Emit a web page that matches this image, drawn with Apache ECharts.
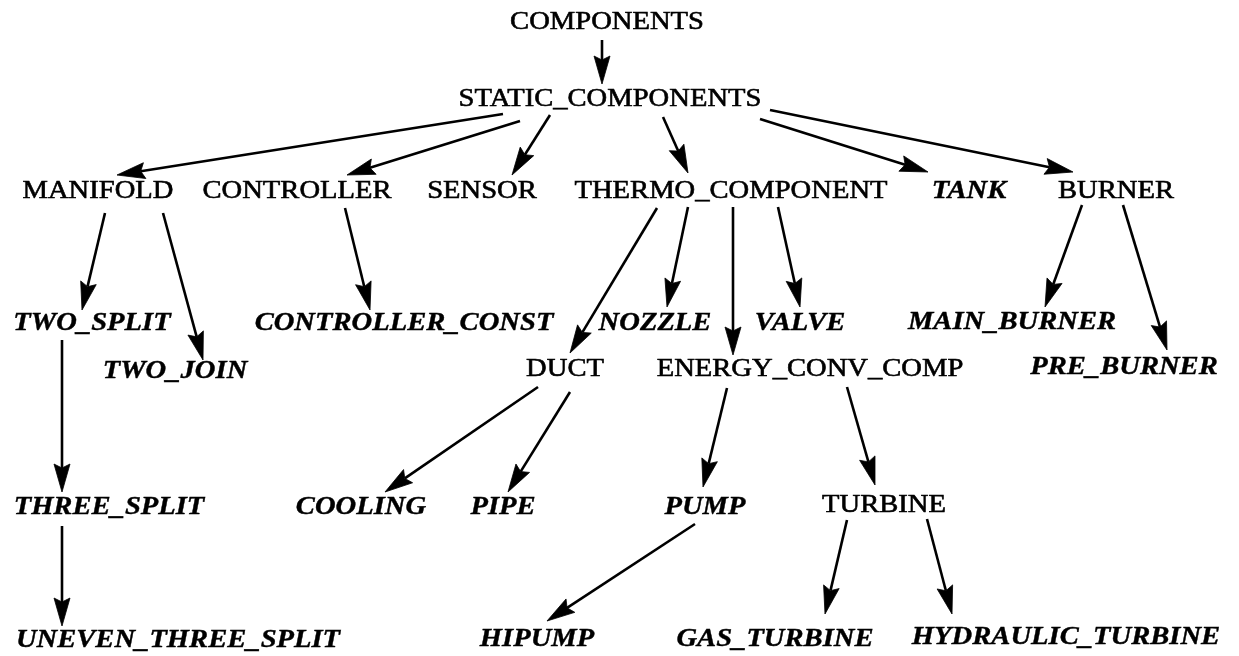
<!DOCTYPE html>
<html>
<head>
<meta charset="utf-8">
<script src="https://cdn.jsdelivr.net/npm/echarts@6/dist/echarts.min.js"></script>
<style>
	html, body { margin: 0; padding: 0; background: #fff; }
	#TreeChart { width: 1239px; height: 656px; }
</style>
</head>
<body>
<div id="TreeChart"></div>
<script>
	/*节点名称*/
	var nodeNames = ['COMPONENTS', 'STATIC_COMPONENTS',
		'MANIFOLD', 'CONTROLLER', 'SENSOR', 'THERMO_COMPONENT', 'TANK', 'BURNER',
		'TWO_SPLIT', 'CONTROLLER_CONST', 'NOZZLE', 'VALVE', 'MAIN_BURNER',
		'TWO_JOIN', 'DUCT', 'ENERGY_CONV_COMP', 'PRE_BURNER',
		'THREE_SPLIT', 'COOLING', 'PIPE', 'PUMP', 'TURBINE',
		'UNEVEN_THREE_SPLIT', 'HIPUMP', 'GAS_TURBINE', 'HYDRAULIC_TURBINE'];
	/*节点中心 (picture units)*/
	var nodeX = [607, 610,
		98, 297, 482, 731, 969, 1116,
		92, 404, 655, 800, 1012,
		175, 565, 810, 1124,
		109, 361, 503, 705, 884,
		178, 537, 775, 1066];
	var nodeY = [22, 99,
		191, 191, 191, 191, 191, 191,
		323, 323, 323, 323, 322,
		371, 369, 369, 367,
		507, 507, 507, 507, 505,
		640, 639, 639, 637];
	/*斜体的节点 (leaf classes)*/
	var italicNodes = ['TANK', 'TWO_SPLIT', 'CONTROLLER_CONST', 'NOZZLE', 'VALVE', 'MAIN_BURNER',
		'TWO_JOIN', 'PRE_BURNER', 'THREE_SPLIT', 'COOLING', 'PIPE', 'PUMP',
		'UNEVEN_THREE_SPLIT', 'HIPUMP', 'GAS_TURBINE', 'HYDRAULIC_TURBINE'];

	/*连线: 起点 -> 箭头尖*/
	var edgeFrom = ['COMPONENTS', 'STATIC_COMPONENTS', 'STATIC_COMPONENTS', 'STATIC_COMPONENTS',
		'STATIC_COMPONENTS', 'STATIC_COMPONENTS', 'STATIC_COMPONENTS',
		'MANIFOLD', 'MANIFOLD', 'CONTROLLER',
		'THERMO_COMPONENT', 'THERMO_COMPONENT', 'THERMO_COMPONENT', 'THERMO_COMPONENT',
		'BURNER', 'BURNER', 'TWO_SPLIT', 'THREE_SPLIT', 'DUCT', 'DUCT',
		'ENERGY_CONV_COMP', 'ENERGY_CONV_COMP', 'PUMP', 'TURBINE', 'TURBINE'];
	var edgeTo = ['STATIC_COMPONENTS', 'MANIFOLD', 'CONTROLLER', 'SENSOR',
		'THERMO_COMPONENT', 'TANK', 'BURNER',
		'TWO_SPLIT', 'TWO_JOIN', 'CONTROLLER_CONST',
		'DUCT', 'NOZZLE', 'ENERGY_CONV_COMP', 'VALVE',
		'MAIN_BURNER', 'PRE_BURNER', 'THREE_SPLIT', 'UNEVEN_THREE_SPLIT', 'COOLING', 'PIPE',
		'PUMP', 'TURBINE', 'HIPUMP', 'GAS_TURBINE', 'HYDRAULIC_TURBINE'];
	var edgeStart = [[602, 40], [503, 114], [520, 121], [550, 115],
		[663, 117], [760, 119], [770, 110],
		[105, 213], [163, 213], [345, 208],
		[657, 208], [688, 207], [733, 207], [778, 207],
		[1082, 205], [1123, 205], [62, 340], [62, 526], [538, 387], [570, 392],
		[727, 388], [847, 387], [695, 524], [847, 520], [927, 519]];
	var edgeEnd = [[602, 84], [117, 175], [347, 175], [512, 175],
		[688, 173], [928, 172], [1073, 172],
		[82, 310], [203, 360], [370, 310],
		[570, 353], [667, 307], [733, 355], [800, 307],
		[1045, 307], [1167, 350], [62, 492], [62, 626], [385, 492], [508, 492],
		[703, 487], [875, 485], [547, 621], [825, 614], [952, 614]];

	var myChart = echarts.init(document.getElementById('TreeChart'));

	var nodeData = nodeNames.map(function(name, i) {
		return [nodeX[i], nodeY[i], name];
	});
	var edgeData = edgeStart.map(function(s, i) {
		return [s[0], s[1], edgeEnd[i][0], edgeEnd[i][1], edgeFrom[i], edgeTo[i]];
	});

	var option = {
		animation: false,
		backgroundColor: '#fff',
		grid: {
			left: 0,
			right: 0,
			top: 0,
			bottom: 0
		},
		xAxis: {
			type: 'value',
			min: 0,
			max: 1239,
			show: false
		},
		yAxis: {
			type: 'value',
			min: 0,
			max: 656,
			inverse: true,
			show: false
		},
		series: [{
			name: 'edges',
			type: 'custom',
			data: edgeData,
			silent: true,
			renderItem: function(params, api) {
				var p1 = api.coord([api.value(0), api.value(1)]);
				var p2 = api.coord([api.value(2), api.value(3)]);
				var dx = p2[0] - p1[0];
				var dy = p2[1] - p1[1];
				var len = Math.sqrt(dx * dx + dy * dy);
				var ux = dx / len;
				var uy = dy / len;
				var headLen = 28;
				var headW = 8;
				var bx = p2[0] - ux * headLen;
				var by = p2[1] - uy * headLen;
				return {
					type: 'group',
					children: [{
						type: 'line',
						shape: { x1: p1[0], y1: p1[1], x2: bx + ux * 4, y2: by + uy * 4 },
						style: { stroke: '#000', lineWidth: 2.6 }
					}, {
						type: 'polygon',
						shape: {
							points: [
								[p2[0], p2[1]],
								[bx - uy * headW, by + ux * headW],
								[bx + ux * 4, by + uy * 4],
								[bx + uy * headW, by - ux * headW]
							]
						},
						style: { fill: '#000', stroke: '#000', lineWidth: 0.8 }
					}]
				};
			}
		}, {
			name: 'nodes',
			type: 'custom',
			data: nodeData,
			silent: true,
			renderItem: function(params, api) {
				var p = api.coord([api.value(0), api.value(1)]);
				var name = nodeNames[params.dataIndex];
				var italic = italicNodes.indexOf(name) >= 0;
				return {
					type: 'text',
					x: p[0],
					y: p[1],
					scaleX: 1.1,
					style: {
						text: name,
						fill: '#000',
						stroke: '#000',
						lineWidth: italic ? 0.4 : 0.6,
						font: (italic ? 'italic bold ' : '') + '26px "Liberation Serif", "Times New Roman", serif',
						align: 'center',
						verticalAlign: 'middle'
					}
				};
			}
		}]
	};

	myChart.setOption(option);
</script>
</body>
</html>
